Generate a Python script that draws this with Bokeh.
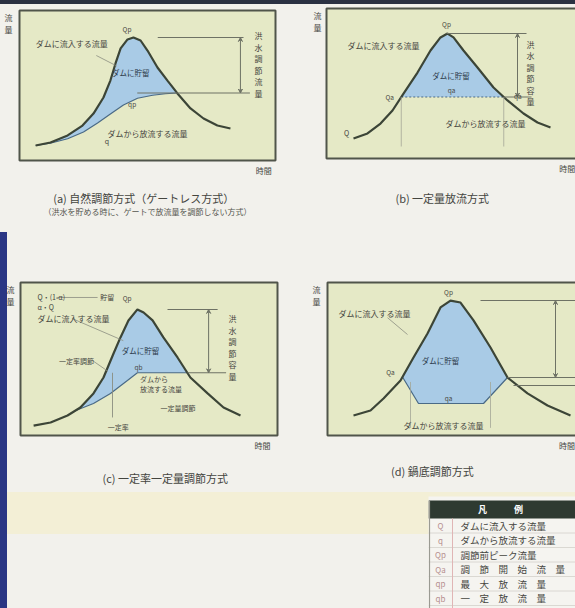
import numpy as np
from bokeh.plotting import figure
from bokeh.models import Range1d, Label, Arrow, VeeHead, Spacer
from bokeh.layouts import column, row
from bokeh.embed import file_html
from bokeh.resources import INLINE
from bokeh.core.properties import value

FONT = "Noto Sans CJK JP"
PAGE = "#f2f1ec"
FRAME = "#e5e9c6"
BLUE = "#a9cbe6"
CURVE = "#3c4537"
REF = "#6e7265"
TXT = "#45463f"

# ---------------- data (time / flow) ----------------
# (a) natural regulation (gateless)
a_in_t = [6.3, 12.1, 18.8, 24.6, 28.9, 32.8, 35.5, 37.5, 39.5, 42.2, 44.5, 47.3,
          50.0, 53.9, 57.8, 61.7, 66.8, 71.9, 77.3, 82.4]
a_in_q = [10, 12, 16.7, 23.3, 31.3, 42, 53.3, 64.7, 74.7, 80.7, 82, 80,
          73.3, 62, 53.3, 44.7, 34.7, 28, 23.3, 21.3]
a_out_t = [6.3, 12, 18.8, 25, 30.5, 35.5, 40.6, 46.1, 52, 57, 61.5]
a_out_q = [10, 11.5, 14.5, 19, 25, 31, 37, 41.5, 43.5, 44.5, 45]

# (b) constant discharge
b_in_t = [10.8, 16.4, 21.6, 26.4, 30.8, 36.4, 41.6, 45.6, 48.4, 50.8, 54.8,
          60.4, 66.8, 72.4, 78.8, 84.4, 89.6]
b_in_q = [13.3, 16.7, 23.3, 32, 43.3, 57.3, 72, 80.7, 83.3, 80.7, 72,
          60.7, 47.3, 38.7, 30, 24, 20.7]
b_out_t = [29.9, 70.9]
b_out_q = [41, 41]

# (c) constant rate - constant discharge
c_in_t = [5.1, 11.7, 18.3, 23.3, 28.4, 32.3, 36.2, 38.9, 42.0, 45.5, 47.9,
          51.4, 55.6, 61.1, 66.1, 72.8, 79.0, 85.6]
c_in_q = [6.5, 8.5, 13.1, 18.3, 27.5, 37.9, 53.6, 64.1, 75.2, 82.4, 80.4,
          75.2, 64.1, 51.0, 37.9, 27.5, 18.3, 13.1]
c_out_t = [21.0, 28.4, 35.0, 41.6, 45.5, 65.0]
c_out_q = [16.0, 20.9, 27.5, 35.9, 41.0, 41.0]

# (d) pot-bottom regulation
d_in_t = [10.4, 17.2, 22.4, 29.2, 34.4, 40.0, 45.2, 49.2, 53.2, 58.4, 65.2,
          72.0, 80.0, 88.0, 97.2]
d_in_q = [13.1, 16.3, 24.2, 35.9, 51.0, 66.7, 83.7, 88.2, 86.9, 75.2, 57.5,
          37.9, 27.5, 19.6, 13.1]
d_out_t = [30.0, 36.4, 62.4, 72.0]
d_out_q = [38.2, 20.9, 20.9, 37.9]

captions = ["(a)  自然調節方式（ゲートレス方式）",
            "(b)  一定量放流方式",
            "(c)  一定率一定量調節方式",
            "(d)  鍋底調節方式"]
subcaption_a = "（洪水を貯める時に、ゲートで放流量を調節しない方式）"

legend_symbols = ["Q", "q", "Qp", "Qa", "qp", "qb"]
legend_texts = ["ダムに流入する流量", "ダムから放流する流量", "調節前ピーク流量",
                "調　節　開　始　流　量", "最　大　放　流　量", "一　定　放　流　量"]


# ---------------- helpers ----------------
def no_grid(p):
    for g in p.xgrid + p.ygrid:
        g.visible = False
        g.grid_line_color = None


def make_panel(w, h, left, top, box_w, box_h, xmax):
    """Whole figure is the frame; the plot box (0..xmax, 0..100) is drawn as a quad."""
    sx = box_w / xmax
    sy = box_h / 100.0
    bottom = h - top - box_h
    p = figure(width=w, height=h,
               x_range=Range1d(-left / sx, (w - left) / sx),
               y_range=Range1d(-bottom / sy, (h - bottom) / sy),
               output_backend="svg", toolbar_location=None,
               x_axis_location=None, y_axis_location=None, min_border=0)
    no_grid(p)
    p.background_fill_color = None
    p.border_fill_color = None
    p.outline_line_color = None
    p.quad(left=[0], right=[xmax], bottom=[0], top=[100], fill_color=FRAME,
           line_color="#50554a", line_width=2)
    return p


def txt(p, x, y, s, size="7.5px", align="left", baseline="middle", color=TXT,
        style="normal"):
    p.add_layout(Label(x=x, y=y, text=s, text_font=FONT, text_font_size=size,
                       text_align=align, text_baseline=baseline, text_color=color,
                       text_font_style=style))


def vtxt(p, x, y, s, size="8px", color=TXT):
    p.add_layout(Label(x=x, y=y, text="\n".join(s), text_font=FONT,
                       text_font_size=size, text_align="center",
                       text_baseline="top", text_color=color,
                       text_line_height=1.05))


def storage(p, in_t, in_q, out_t, out_q, out_dash="solid"):
    it = np.asarray(in_t, dtype=float)
    iq = np.asarray(in_q, dtype=float)
    m = (it > out_t[0]) & (it < out_t[-1])
    xs = np.concatenate([[out_t[0]], it[m], np.asarray(out_t, float)[::-1]])
    ys = np.concatenate([[out_q[0]], iq[m], np.asarray(out_q, float)[::-1]])
    p.patch(xs, ys, fill_color=BLUE, line_color=None)
    p.line(out_t, out_q, line_color="#4a6a86", line_width=1.2, line_dash=out_dash)
    p.line(in_t, in_q, line_color=CURVE, line_width=2.2)


def ref_lines(p, x0, y0, x1, y1, color=REF, width=1.1, alpha=1.0):
    p.segment(x0=x0, y0=y0, x1=x1, y1=y1, line_color=color, line_width=width,
              line_alpha=alpha)


def dim(p, x, y0, y1):
    p.add_layout(Arrow(start=VeeHead(size=4, line_color=REF, fill_color=REF, line_width=1),
                       end=VeeHead(size=4, line_color=REF, fill_color=REF, line_width=1),
                       x_start=x, y_start=y0, x_end=x, y_end=y1,
                       line_color=REF, line_width=1))


def axis_words(p, xl, yl, xr, yr):
    vtxt(p, xl, yl, "流量", size="8px")
    txt(p, xr, yr, "時間", size="8px", align="right", baseline="top")


# ---------------- panel (a) ----------------
pa = make_panel(300, 274, 19, 10, 256, 150, 100)
storage(pa, a_in_t, a_in_q, a_out_t, a_out_q)
a_peak = max(a_in_q)
a_qp = max(a_out_q)
ref_lines(pa, [54, 46], [a_peak, a_qp], [87.5, 90], [a_peak, a_qp])
ref_lines(pa, [30], [70], [38], [63], color="#8a8d80", width=0.8)
dim(pa, 86.3, a_peak, a_qp)
txt(pa, 6.3, 78, "ダムに流入する流量", size="8px")
txt(pa, 50, 18, "ダムから放流する流量", size="8px", align="center")
txt(pa, 43.5, 59, "ダムに貯留", size="7.5px", align="center", color="#2d3b4c")
txt(pa, 42, 88, "Qp", size="6.5px", align="center")
txt(pa, 44, 38, "qp", size="6.5px", align="center")
txt(pa, 35, 13, "q", size="7px", align="right")
vtxt(pa, 93.4, 87, "洪水調節流量", size="8px")
axis_words(pa, -4.3, 99, 98.5, -2.7)
txt(pa, 49, -24.7, captions[0], size="11px", align="center", color="#44453f")
txt(pa, 50, -34, subcaption_a, size="8px", align="center", color="#55564f")

# ---------------- panel (b) ----------------
pb = make_panel(275, 274, 26, 8, 250, 150, 100)
storage(pb, b_in_t, b_in_q, b_out_t, b_out_q, out_dash="2 2")
b_peak = max(b_in_q)
b_q = b_out_q[0]
ref_lines(pb, [48, 70.9], [b_peak, b_q], [80, 82], [b_peak, b_q])
ref_lines(pb, [29.9, 70.9], [b_q, b_q], [29.9, 70.9], [8, 8], color="#a3a697", width=0.8)
dim(pb, 76.4, b_peak, b_q)
txt(pb, 8.4, 75.3, "ダムに流入する流量", size="8px")
txt(pb, 49.8, 55.3, "ダムに貯留", size="7.5px", align="center", color="#2d3b4c")
txt(pb, 50.0, 46, "qa", size="6.5px", align="center")
txt(pb, 63.6, 23.3, "ダムから放流する流量", size="8px", align="center")
txt(pb, 48, 90, "Qp", size="6.5px", align="center")
txt(pb, 27, b_q, "Qa", size="6.5px", align="right")
txt(pb, 75, b_q + 1, "qa", size="6.5px", align="left")
txt(pb, 8, 17, "Q", size="7px", align="center")
vtxt(pb, 81.6, 80, "洪水調節容量", size="8px")
axis_words(pb, -3.6, 99, 99.5, -2.7)
txt(pb, 46.8, -26, captions[1], size="11px", align="center", color="#44453f")

# ---------------- panel (c) ----------------
pc = make_panel(300, 222, 20, 8, 257, 153, 100)
storage(pc, c_in_t, c_in_q, c_out_t, c_out_q)
c_peak = max(c_in_q)
c_q = max(c_out_q)
ref_lines(pc, [57.2, 65.0], [c_peak, c_q], [76.7, 80.0], [c_peak, c_q])
ref_lines(pc, [35.8], [c_q], [35.8], [11.8], color="#8a8d80", width=0.9)
ref_lines(pc, [14, 20, 28], [90.2, 76.5, 49], [30, 40, 34], [90.2, 62, 42],
          color="#8a8d80", width=0.8)
dim(pc, 73.2, c_peak, c_q)
txt(pc, 6.6, 90.2, "Q・(1-α)", size="7px")
txt(pc, 31, 90.2, "貯留", size="7px")
txt(pc, 6.6, 83.7, "α・Q", size="7px")
txt(pc, 6.6, 76.5, "ダムに流入する流量", size="8px")
txt(pc, 15, 49, "一定率調節", size="7px")
txt(pc, 46.7, 55.6, "ダムに貯留", size="7.5px", align="center", color="#2d3b4c")
txt(pc, 45.9, 44.6, "qb", size="6.5px", align="center")
txt(pc, 46.5, 37.0, "ダムから", size="7px")
txt(pc, 46.5, 30.5, "放流する流量", size="7px")
txt(pc, 54.5, 18.3, "一定量調節", size="7px")
txt(pc, 38, 5.5, "一定率", size="7px", align="center")
txt(pc, 41.5, 90, "Qp", size="6.5px", align="center")
vtxt(pc, 82.5, 80, "洪水調節容量", size="8px")
axis_words(pc, -3.9, 99, 97.3, -2.7)
txt(pc, 56.8, -28, captions[2], size="11px", align="center", color="#44453f")

# ---------------- panel (d) ----------------
pd_ = make_panel(275, 222, 27, 8, 250, 153, 100)
storage(pd_, d_in_t, d_in_q, d_out_t, d_out_q)
d_peak = max(d_in_q)
ref_lines(pd_, [61.2, 72.0, 74.4], [d_peak, 37.9, 32.7], [100, 100, 100],
          [d_peak, 37.9, 32.7])
ref_lines(pd_, [33.2, 65.2], [35, 35], [33.2, 65.2], [5, 5], color="#a3a697", width=0.8)
dim(pd_, 91.2, d_peak, 37.9)
txt(pd_, 4.4, 79.7, "ダムに流入する流量", size="8px")
ref_lines(pd_, [24], [77], [32], [66], color="#8a8d80", width=0.8)
txt(pd_, 45.2, 49, "ダムに貯留", size="7.5px", align="center", color="#2d3b4c")
txt(pd_, 25.2, 41.2, "Qa", size="6.5px", align="center")
txt(pd_, 48.4, 24.2, "qa", size="6.5px", align="center")
txt(pd_, 46.4, 6.5, "ダムから放流する流量", size="8px", align="center")
txt(pd_, 48.4, 94, "Qp", size="6.5px", align="center")
axis_words(pd_, -4.4, 99, 99, -2.7)
txt(pd_, 42.4, -23, captions[3], size="11px", align="center", color="#44453f")

# ---------------- legend table ----------------
LW, LH = 147, 112
lg = figure(width=LW, height=LH, x_range=Range1d(0, LW), y_range=Range1d(LH, 0),
            output_backend="svg", toolbar_location=None,
            x_axis_location=None, y_axis_location=None, min_border=0)
no_grid(lg)
lg.background_fill_color = "#f5f4f0"
lg.border_fill_color = None
lg.outline_line_color = None
ry = 22 + 14.5 * np.arange(len(legend_texts)) + 7.25
lg.quad(left=0, right=LW, top=4, bottom=22, fill_color="#2e3a31", line_color=None)
lg.text(x=[72], y=[13], text=["凡　　　例"], text_font=value(FONT),
        text_color="white", text_align="center", text_baseline="middle",
        text_font_size="9px", text_font_style="bold")
lg.segment(x0=0, y0=ry + 7.25, x1=LW, y1=ry + 7.25, line_color="#d3d1ca", line_width=0.8)
lg.segment(x0=[1], y0=[4], x1=[1], y1=[LH], line_color="#9a9a92", line_width=1.2)
lg.segment(x0=[24], y0=[22], x1=[24], y1=[LH], line_color="#e0b5b5", line_width=1)
lg.text(x=12, y=ry, text=legend_symbols, text_font=value(FONT), text_color="#b58f8f",
        text_align="center", text_baseline="middle", text_font_size="8px")
lg.text(x=32, y=ry, text=legend_texts, text_font=value(FONT), text_color=TXT,
        text_align="left", text_baseline="middle", text_font_size="9.5px")

page_bg = ("linear-gradient(#2b3142, #2b3142) 0 0 / 100% 4px no-repeat, "
           "linear-gradient(#2a3684, #2a3684) 0 232px / 7px 376px no-repeat, "
           "linear-gradient(#f3efd6, #f3efd6) 0 492px / 100% 42px no-repeat, "
           + PAGE)
layout = column(row(pa, pb), row(pc, pd_), row(Spacer(width=428, height=LH), lg),
                styles={"background": page_bg})

open("out.html", "w").write(file_html(layout, INLINE))
